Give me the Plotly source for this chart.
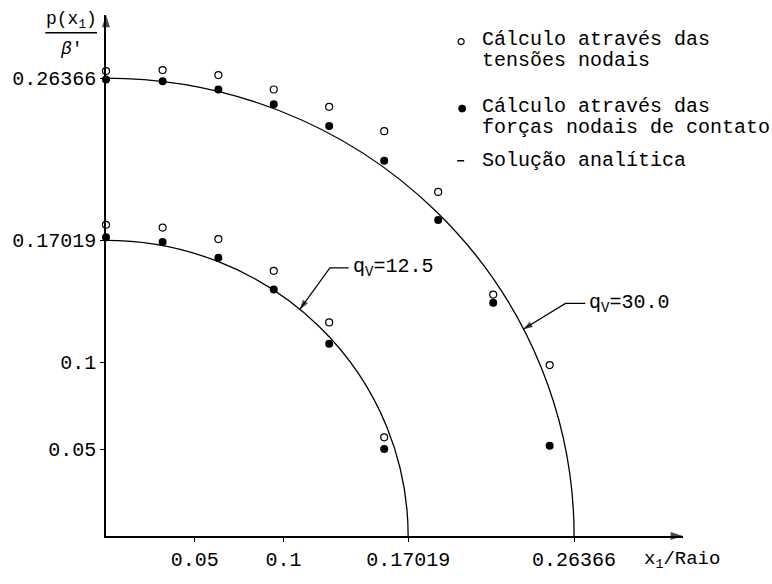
import plotly.graph_objects as go

# ---- data ----
radii = [0.17019, 0.26366]            # analytic solution: quarter circles centred on the origin
curve_labels = ["q<sub>V</sub>=12.5", "q<sub>V</sub>=30.0"]

x_inner = [0.0, 0.0319, 0.0633, 0.0945, 0.1257, 0.1567]
inner_tensoes = [0.1792, 0.1776, 0.1710, 0.1527, 0.1230, 0.0568]
inner_forcas = [0.1720, 0.1693, 0.1602, 0.1419, 0.1107, 0.0501]

x_outer = [0.0, 0.0319, 0.0633, 0.0945, 0.1257, 0.1567, 0.1871, 0.2181, 0.2499]
outer_tensoes = [0.2677, 0.2683, 0.2654, 0.2571, 0.2471, 0.2331, 0.1981, 0.1390, 0.0984]
outer_forcas = [0.2628, 0.2618, 0.2571, 0.2486, 0.2361, 0.2161, 0.1820, 0.1343, 0.0520]

tick_vals_x = [0.05, 0.1, 0.17019, 0.26366]
tick_text_x = ["0.05", "0.1", "0.17019", "0.26366"]
tick_vals_y = [0.05, 0.1, 0.17019, 0.26366]
tick_text_y = ["0.05", "0.1", "0.17019", "0.26366"]

legend_lines = ["Cálculo através das", "tensões nodais",
                "Cálculo através das", "forças nodais de contato",
                "Solução analítica"]

# leader lines: end of horizontal part, bend, tip on curve
leader_end = [(0.1367, 0.1544), (0.2700, 0.1339)]
leader_bend = [(0.1261, 0.1544), (0.2588, 0.1339)]
leader_tip = [(0.1092, 0.1305), (0.2350, 0.1190)]

FONT = "Liberation Mono"
X_MAX = 0.325
Y_MAX = 0.300

W, H = 772, 584
ML, MR, MT, MB = 103, 89, 15, 40
PW, PH = W - ML - MR, H - MT - MB


def pxx(px):
    return (px - ML) / PW


def pxy(py):
    return (H - MB - py) / PH


fig = go.Figure()

# points: open circles (tensões nodais)
fig.add_trace(go.Scatter(
    x=x_inner + [None] + x_outer, y=inner_tensoes + [None] + outer_tensoes,
    mode="markers", name="tensões nodais", cliponaxis=False, showlegend=False,
    marker=dict(symbol="circle-open", size=7, color="black", line=dict(width=1.2)),
))
# filled circles (forças nodais de contato)
fig.add_trace(go.Scatter(
    x=x_inner + [None] + x_outer, y=inner_forcas + [None] + outer_forcas,
    mode="markers", name="forças nodais", cliponaxis=False, showlegend=False,
    marker=dict(symbol="circle", size=8, color="black"),
))

# analytic solution: circles centred on the origin (clipped to the quadrant)
for a in radii:
    fig.add_shape(type="circle", xref="x", yref="y", x0=-a, y0=-a, x1=a, y1=a,
                  line=dict(color="black", width=1.3), layer="above")

# leader lines with arrowheads and labels
for end, bend, tip, lab in zip(leader_end, leader_bend, leader_tip, curve_labels):
    fig.add_trace(go.Scatter(
        x=[end[0], bend[0], tip[0]], y=[end[1], bend[1], tip[1]],
        mode="lines+markers", showlegend=False, hoverinfo="skip", cliponaxis=False,
        line=dict(color="black", width=1.2),
        marker=dict(symbol="arrow", size=[0, 0, 10], angleref="previous", color="black",
                    line=dict(width=0)),
    ))
    fig.add_annotation(x=end[0], y=end[1], xref="x", yref="y", text=lab, showarrow=False,
                       xanchor="left", yanchor="middle", xshift=2,
                       font=dict(family=FONT, size=20, color="black"))

# axis arrowheads
fig.add_trace(go.Scatter(
    x=[0, 0], y=[Y_MAX * 0.9, Y_MAX], mode="markers", showlegend=False, hoverinfo="skip",
    cliponaxis=False,
    marker=dict(symbol="arrow", size=[0, 13], angleref="previous", color="black", line=dict(width=0)),
))
fig.add_trace(go.Scatter(
    x=[X_MAX * 0.9, X_MAX], y=[0, 0], mode="markers", showlegend=False, hoverinfo="skip",
    cliponaxis=False,
    marker=dict(symbol="arrow", size=[0, 13], angleref="previous", color="black", line=dict(width=0)),
))

# axis titles
fig.add_annotation(x=pxx(68), y=pxy(21), xref="paper", yref="paper",
                   text="p(x<sub>1</sub>)", showarrow=False, xanchor="center", yanchor="middle",
                   font=dict(family=FONT, size=18, color="black"))
fig.add_shape(type="line", xref="paper", yref="paper", x0=pxx(42), x1=pxx(94), y0=pxy(33), y1=pxy(33),
              line=dict(color="black", width=1.3))
fig.add_annotation(x=pxx(68), y=pxy(50), xref="paper", yref="paper",
                   text="<i>β</i>'", showarrow=False, xanchor="center", yanchor="middle",
                   font=dict(family=FONT, size=18, color="black"))
fig.add_annotation(x=pxx(642), y=pxy(568), xref="paper", yref="paper",
                   text="x<sub>1</sub>/Raio", showarrow=False, xanchor="left", yanchor="middle",
                   font=dict(family=FONT, size=19, color="black"))

# hand-made legend (text lines + symbols)
legend_y = [40, 61, 108, 129, 163]
for txt, ly in zip(legend_lines, legend_y):
    fig.add_annotation(x=pxx(479), y=pxy(ly), xref="paper", yref="paper", text=txt,
                       showarrow=False, xanchor="left", yanchor="middle",
                       font=dict(family=FONT, size=20, color="black"))
fig.add_shape(type="circle", xref="paper", yref="paper", xsizemode="pixel", ysizemode="pixel",
              xanchor=pxx(460), yanchor=pxy(legend_y[0] + 2), x0=-3, x1=3, y0=-3, y1=3,
              line=dict(color="black", width=1.1), fillcolor="white")
fig.add_shape(type="circle", xref="paper", yref="paper", xsizemode="pixel", ysizemode="pixel",
              xanchor=pxx(461), yanchor=pxy(legend_y[2] + 2), x0=-3.5, x1=3.5, y0=-3.5, y1=3.5,
              line=dict(color="black", width=1), fillcolor="black")
fig.add_shape(type="line", xref="paper", yref="paper", x0=pxx(456), x1=pxx(463),
              y0=pxy(legend_y[4]), y1=pxy(legend_y[4]), line=dict(color="black", width=1.5))

axis_common = dict(showgrid=False, zeroline=False, showline=True, linecolor="black",
                   linewidth=1.5, ticks="outside", ticklen=4, tickwidth=1.2, tickcolor="black",
                   tickfont=dict(family=FONT, size=20, color="black"))

fig.update_layout(
    width=W, height=H,
    margin=dict(l=ML, r=MR, t=MT, b=MB),
    paper_bgcolor="white", plot_bgcolor="white",
    xaxis=dict(range=[0, X_MAX], tickvals=tick_vals_x, ticktext=tick_text_x, **axis_common),
    yaxis=dict(range=[0, Y_MAX], tickvals=tick_vals_y, ticktext=tick_text_y, **axis_common),
    showlegend=False,
)

fig.write_html("out.html")
